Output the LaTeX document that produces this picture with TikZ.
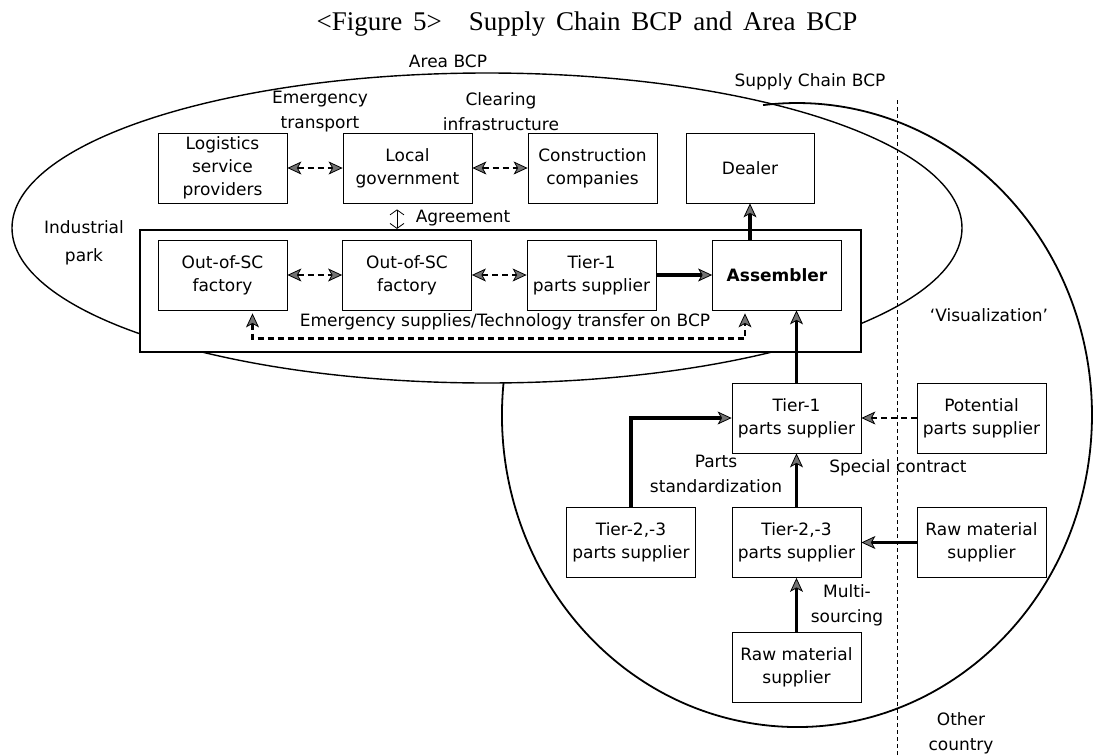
\documentclass[tikz,border=0pt]{standalone}
\usepackage{fontspec}
\setsansfont{DejaVu Sans}
\newfontfamily\captionserif{Liberation Serif}
\usetikzlibrary{arrows.meta,positioning,calc}
\tikzset{
    plain-box/.style = {draw, thin, fill=white, rectangle, minimum width=64.5pt, minimum height=35pt, align=center, inner sep=1pt},
    park-box/.style = {draw, line width=1.1pt, fill=white, rectangle, minimum width=360.5pt, minimum height=61pt},
    dash-link/.style = {line width=1.1pt, dash pattern=on 3pt off 2pt},
    solid-link/.style = {line width=1.6pt},
    note-label/.style = {align=center, inner sep=0pt, font=\sffamily\fontsize{8.5}{12.5}\selectfont},
    region-line/.style = {line width=0.7pt},
    border-line/.style = {line width=0.5pt, dash pattern=on 2pt off 1.5pt},
}

\begin{document}
\begin{tikzpicture}[x=0.5pt, y=0.5pt, font=\sffamily\fontsize{8.5}{11.5}\selectfont,
    >={Stealth[length=7pt, width=6.5pt, inset=1.8pt, fill=black!55, line width=0.4pt]}]
\useasboundingbox (0,0) rectangle (1094,-756);

% regions
\draw[region-line] (487,-228) ellipse[x radius=237.5pt, y radius=77.5pt];
\coordinate (sc-start) at (503.6,-382.4);
\draw[region-line, line width=0.9pt] (sc-start) arc[start angle=174, end angle=456.6, x radius=147.5pt, y radius=156pt];
\coordinate (border-top) at (897,-100);
\coordinate (border-bottom) at (897,-756);
\draw[border-line] (border-top) -- (border-bottom);

\node[font=\captionserif\fontsize{13.5}{15}\selectfont] (title) at (587,-24) {\spaceskip 0.4em\relax <Figure 5>\hspace{1em}Supply Chain BCP and Area BCP};
\node[note-label] (area-label) at (448,-61) {Area BCP};
\node[note-label] (sc-label) at (810,-82) {Supply Chain BCP};

% area BCP row
\node[plain-box] (logi) at (222.5,-168) {Logistics\\service\\providers};
\node[plain-box] (govt) at (407.5,-168) {Local\\government};
\node[plain-box] (constr) at (592.5,-168) {Construction\\companies};
\node[plain-box, minimum width=64pt] (dealer) at (750,-168) {Dealer};
\node[note-label] (transport-label) at (320,-112) {Emergency\\transport};
\node[note-label] (clearing-label) at (501,-112) {Clearing\\infrastructure};

% industrial park
\node[park-box] (park) at (500.5,-291) {};
\node[note-label, font=\sffamily\fontsize{8.5}{14}\selectfont] (park-label) at (84,-243) {Industrial\\park};
\node[plain-box] (fact1) at (222.5,-275) {Out-of-SC\\factory};
\node[plain-box] (fact2) at (407,-275) {Out-of-SC\\factory};
\node[plain-box] (tier1a) at (591.5,-275) {Tier-1\\parts supplier};
\node[plain-box, font=\sffamily\bfseries\fontsize{8.5}{11.5}\selectfont] (asm) at (777,-275) {Assembler};
\node[note-label] (agree-label) at (463,-218) {Agreement};
\node[note-label] (emerg-label) at (505,-322) {Emergency supplies/Technology transfer on BCP};

% supply chain
\node[plain-box] (t1b) at (796.5,-418) {Tier-1\\parts supplier};
\node[plain-box] (potential) at (981.5,-418) {Potential\\parts supplier};
\node[plain-box] (t2a) at (631,-542.5) {Tier-2,-3\\parts supplier};
\node[plain-box] (t2b) at (796.5,-542.5) {Tier-2,-3\\parts supplier};
\node[plain-box] (raw1) at (981.5,-542.5) {Raw material\\supplier};
\node[plain-box] (raw2) at (796.5,-667) {Raw material\\supplier};
\node[note-label] (visual-label) at (989,-315) {‘Visualization’};
\node[note-label] (std-label) at (716,-474) {Parts\\standardization};
\node[note-label] (special-label) at (898,-468) {Special contract};
\node[note-label] (multi-label) at (847,-605) {Multi-\\sourcing};
\node[note-label] (country-label) at (961,-733) {Other\\country};

% links
\draw[dash-link, <->] (logi.east) -- (govt.west);
\draw[dash-link, <->] (govt.east) -- (constr.west);
\draw[dash-link, <->] (fact1.east) -- (fact2.west);
\draw[dash-link, <->] (fact2.east) -- (tier1a.west);
\draw[solid-link, ->] (tier1a.east) -- (asm.west);
\draw[solid-link, ->] (dealer.south |- asm.north) -- (dealer.south);
\draw[{Straight Barb[length=2.5pt, width=7pt]}-{Straight Barb[length=2.5pt, width=7pt]}, thin, shorten <=3pt]
    ([xshift=-5.25pt]govt.south) -- ([xshift=-5.25pt]govt.south |- park.north);
\draw[dash-link, <->] ($(fact1.south)+(15pt,-1.5pt)$) -- ++(0,-25) -| ($(asm.south)+(-16pt,-1.5pt)$);
\draw[solid-link, ->] (t1b.north) -- (t1b.north |- asm.south);
\draw[solid-link, ->] (t2a.north) |- (t1b.west);
\draw[dash-link, ->] (potential.west) -- (t1b.east);
\draw[solid-link, ->] (t2b.north) -- (t1b.south);
\draw[solid-link, ->] (raw1.west) -- (t2b.east);
\draw[solid-link, ->] (raw2.north) -- (t2b.south);
\end{tikzpicture}
\end{document}
